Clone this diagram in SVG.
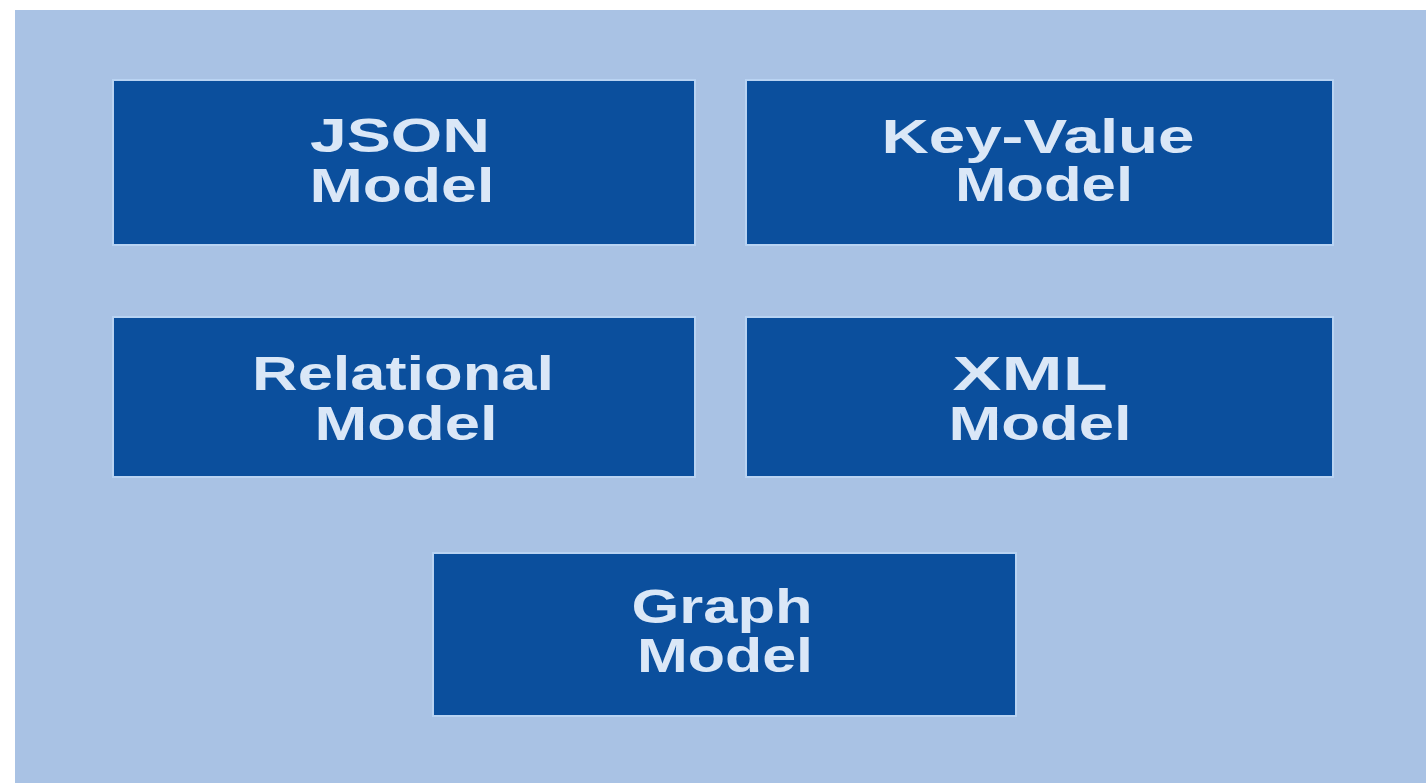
<svg xmlns="http://www.w3.org/2000/svg" width="1426" height="783" viewBox="0 0 1426 783">
  <style>
    .box { fill: #0b4f9d; stroke: #b9d3f2; stroke-width: 2; }
    .lbl { font-family: "Liberation Sans", Arial, sans-serif; font-size: 48px; font-weight: bold; fill: #dae7f7; text-anchor: middle; }
  </style>
  <rect x="0" y="0" width="1426" height="783" fill="#ffffff"/>
  <rect x="15" y="10" width="1411" height="773" fill="#a9c2e4"/>
  <g id="json">
    <rect class="box" x="113" y="80" width="582" height="165"/>
    <text class="lbl" x="400" y="152" textLength="180" lengthAdjust="spacingAndGlyphs">JSON</text>
    <text class="lbl" x="402" y="202" textLength="185" lengthAdjust="spacingAndGlyphs">Model</text>
  </g>
  <g id="keyvalue">
    <rect class="box" x="746" y="80" width="587" height="165"/>
    <text class="lbl" x="1038" y="153" textLength="313" lengthAdjust="spacingAndGlyphs">Key-Value</text>
    <text class="lbl" x="1044" y="201" textLength="178" lengthAdjust="spacingAndGlyphs">Model</text>
  </g>
  <g id="relational">
    <rect class="box" x="113" y="317" width="582" height="160"/>
    <text class="lbl" x="403" y="390" textLength="302" lengthAdjust="spacingAndGlyphs">Relational</text>
    <text class="lbl" x="406" y="440" textLength="183" lengthAdjust="spacingAndGlyphs">Model</text>
  </g>
  <g id="xml">
    <rect class="box" x="746" y="317" width="587" height="160"/>
    <text class="lbl" x="1030" y="390" textLength="155" lengthAdjust="spacingAndGlyphs">XML</text>
    <text class="lbl" x="1040" y="440" textLength="183" lengthAdjust="spacingAndGlyphs">Model</text>
  </g>
  <g id="graph">
    <rect class="box" x="433" y="553" width="583" height="163"/>
    <text class="lbl" x="722" y="623" textLength="181" lengthAdjust="spacingAndGlyphs">Graph</text>
    <text class="lbl" x="725" y="672" textLength="176" lengthAdjust="spacingAndGlyphs">Model</text>
  </g>
  <g id="connectors"/>
</svg>
